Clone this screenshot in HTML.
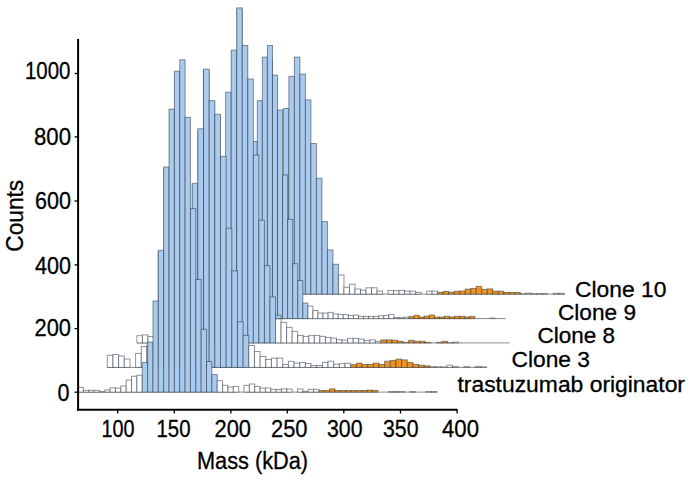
<!DOCTYPE html>
<html><head><meta charset="utf-8"><style>html,body{margin:0;padding:0;background:#fff;overflow:hidden}svg{display:block}</style></head>
<body>
<svg width="700" height="481" viewBox="0 0 700 481">
<rect width="700" height="481" fill="#fff"/>
<defs><clipPath id="c"><rect x="78.1" y="0" width="622" height="409"/></clipPath></defs>
<g clip-path="url(#c)">
<line x1="195.20" y1="294.10" x2="565.00" y2="294.10" stroke="#8c8c8c" stroke-width="1"/>
<rect x="195.20" y="184.80" width="5.510" height="109.30" fill="#ffffff" stroke="#1e2a36" stroke-opacity="0.5" stroke-width="1.0"/>
<rect x="200.71" y="130.30" width="5.510" height="163.80" fill="#ffffff" stroke="#1e2a36" stroke-opacity="0.5" stroke-width="1.0"/>
<rect x="206.22" y="102.20" width="5.510" height="191.90" fill="#ffffff" stroke="#1e2a36" stroke-opacity="0.5" stroke-width="1.0"/>
<rect x="211.73" y="115.80" width="5.510" height="178.30" fill="#ffffff" stroke="#1e2a36" stroke-opacity="0.5" stroke-width="1.0"/>
<rect x="217.24" y="157.90" width="5.510" height="136.20" fill="#ffffff" stroke="#1e2a36" stroke-opacity="0.5" stroke-width="1.0"/>
<rect x="222.75" y="157.90" width="5.510" height="136.20" fill="#abcbee" stroke="#1e2a36" stroke-opacity="0.5" stroke-width="1.0"/>
<rect x="228.26" y="93.70" width="5.510" height="200.40" fill="#abcbee" stroke="#1e2a36" stroke-opacity="0.5" stroke-width="1.0"/>
<rect x="233.77" y="51.60" width="5.510" height="242.50" fill="#abcbee" stroke="#1e2a36" stroke-opacity="0.5" stroke-width="1.0"/>
<rect x="239.28" y="47.00" width="5.510" height="247.10" fill="#abcbee" stroke="#1e2a36" stroke-opacity="0.5" stroke-width="1.0"/>
<rect x="244.79" y="80.50" width="5.510" height="213.60" fill="#abcbee" stroke="#1e2a36" stroke-opacity="0.5" stroke-width="1.0"/>
<rect x="250.30" y="143.00" width="5.510" height="151.10" fill="#abcbee" stroke="#1e2a36" stroke-opacity="0.5" stroke-width="1.0"/>
<rect x="255.81" y="143.00" width="5.510" height="151.10" fill="#abcbee" stroke="#1e2a36" stroke-opacity="0.5" stroke-width="1.0"/>
<rect x="261.32" y="102.20" width="5.510" height="191.90" fill="#abcbee" stroke="#1e2a36" stroke-opacity="0.5" stroke-width="1.0"/>
<rect x="266.83" y="58.60" width="5.510" height="235.50" fill="#abcbee" stroke="#1e2a36" stroke-opacity="0.5" stroke-width="1.0"/>
<rect x="272.34" y="111.50" width="5.510" height="182.60" fill="#abcbee" stroke="#1e2a36" stroke-opacity="0.5" stroke-width="1.0"/>
<rect x="277.85" y="176.50" width="5.510" height="117.60" fill="#abcbee" stroke="#1e2a36" stroke-opacity="0.5" stroke-width="1.0"/>
<rect x="283.36" y="108.50" width="5.510" height="185.60" fill="#abcbee" stroke="#1e2a36" stroke-opacity="0.5" stroke-width="1.0"/>
<rect x="288.87" y="76.30" width="5.510" height="217.80" fill="#abcbee" stroke="#1e2a36" stroke-opacity="0.5" stroke-width="1.0"/>
<rect x="294.38" y="57.10" width="5.510" height="237.00" fill="#abcbee" stroke="#1e2a36" stroke-opacity="0.5" stroke-width="1.0"/>
<rect x="299.89" y="74.10" width="5.510" height="220.00" fill="#abcbee" stroke="#1e2a36" stroke-opacity="0.5" stroke-width="1.0"/>
<rect x="305.40" y="99.90" width="5.510" height="194.20" fill="#abcbee" stroke="#1e2a36" stroke-opacity="0.5" stroke-width="1.0"/>
<rect x="310.91" y="143.50" width="5.510" height="150.60" fill="#abcbee" stroke="#1e2a36" stroke-opacity="0.5" stroke-width="1.0"/>
<rect x="316.42" y="178.30" width="5.510" height="115.80" fill="#abcbee" stroke="#1e2a36" stroke-opacity="0.5" stroke-width="1.0"/>
<rect x="321.93" y="221.60" width="5.510" height="72.50" fill="#abcbee" stroke="#1e2a36" stroke-opacity="0.5" stroke-width="1.0"/>
<rect x="327.44" y="249.90" width="5.510" height="44.20" fill="#abcbee" stroke="#1e2a36" stroke-opacity="0.5" stroke-width="1.0"/>
<rect x="332.95" y="264.30" width="5.510" height="29.80" fill="#abcbee" stroke="#1e2a36" stroke-opacity="0.5" stroke-width="1.0"/>
<rect x="338.46" y="275.00" width="5.510" height="19.10" fill="#ffffff" stroke="#1e2a36" stroke-opacity="0.5" stroke-width="1.0"/>
<rect x="343.97" y="287.30" width="5.510" height="6.80" fill="#ffffff" stroke="#1e2a36" stroke-opacity="0.5" stroke-width="1.0"/>
<rect x="349.48" y="284.20" width="5.510" height="9.90" fill="#ffffff" stroke="#1e2a36" stroke-opacity="0.5" stroke-width="1.0"/>
<rect x="354.99" y="289.00" width="5.510" height="5.10" fill="#ffffff" stroke="#1e2a36" stroke-opacity="0.5" stroke-width="1.0"/>
<rect x="360.50" y="290.20" width="5.510" height="3.90" fill="#ffffff" stroke="#1e2a36" stroke-opacity="0.5" stroke-width="1.0"/>
<rect x="366.01" y="287.80" width="5.510" height="6.30" fill="#ffffff" stroke="#1e2a36" stroke-opacity="0.5" stroke-width="1.0"/>
<rect x="371.52" y="287.80" width="5.510" height="6.30" fill="#ffffff" stroke="#1e2a36" stroke-opacity="0.5" stroke-width="1.0"/>
<rect x="377.03" y="291.00" width="5.510" height="3.10" fill="#ffffff" stroke="#1e2a36" stroke-opacity="0.5" stroke-width="1.0"/>
<rect x="388.05" y="290.50" width="5.510" height="3.60" fill="#ffffff" stroke="#1e2a36" stroke-opacity="0.5" stroke-width="1.0"/>
<rect x="393.56" y="290.70" width="5.510" height="3.40" fill="#ffffff" stroke="#1e2a36" stroke-opacity="0.5" stroke-width="1.0"/>
<rect x="399.07" y="290.40" width="5.510" height="3.70" fill="#ffffff" stroke="#1e2a36" stroke-opacity="0.5" stroke-width="1.0"/>
<rect x="404.58" y="291.10" width="5.510" height="3.00" fill="#ffffff" stroke="#1e2a36" stroke-opacity="0.5" stroke-width="1.0"/>
<rect x="410.09" y="291.10" width="5.510" height="3.00" fill="#ffffff" stroke="#1e2a36" stroke-opacity="0.5" stroke-width="1.0"/>
<rect x="415.60" y="292.40" width="5.510" height="1.70" fill="#ffffff" stroke="#1e2a36" stroke-opacity="0.5" stroke-width="1.0"/>
<rect x="426.62" y="291.10" width="5.510" height="3.00" fill="#ffffff" stroke="#1e2a36" stroke-opacity="0.5" stroke-width="1.0"/>
<rect x="432.13" y="291.10" width="5.510" height="3.00" fill="#ffffff" stroke="#1e2a36" stroke-opacity="0.5" stroke-width="1.0"/>
<rect x="437.64" y="292.40" width="5.510" height="1.70" fill="#f29421" stroke="#1e2a36" stroke-opacity="0.5" stroke-width="1.0"/>
<rect x="443.15" y="291.40" width="5.510" height="2.70" fill="#f29421" stroke="#1e2a36" stroke-opacity="0.5" stroke-width="1.0"/>
<rect x="448.66" y="292.20" width="5.510" height="1.90" fill="#f29421" stroke="#1e2a36" stroke-opacity="0.5" stroke-width="1.0"/>
<rect x="454.17" y="291.30" width="5.510" height="2.80" fill="#f29421" stroke="#1e2a36" stroke-opacity="0.5" stroke-width="1.0"/>
<rect x="459.68" y="291.00" width="5.510" height="3.10" fill="#f29421" stroke="#1e2a36" stroke-opacity="0.5" stroke-width="1.0"/>
<rect x="465.19" y="289.10" width="5.510" height="5.00" fill="#f29421" stroke="#1e2a36" stroke-opacity="0.5" stroke-width="1.0"/>
<rect x="470.70" y="288.40" width="5.510" height="5.70" fill="#f29421" stroke="#1e2a36" stroke-opacity="0.5" stroke-width="1.0"/>
<rect x="476.21" y="286.40" width="5.510" height="7.70" fill="#f29421" stroke="#1e2a36" stroke-opacity="0.5" stroke-width="1.0"/>
<rect x="481.72" y="289.40" width="5.510" height="4.70" fill="#f29421" stroke="#1e2a36" stroke-opacity="0.5" stroke-width="1.0"/>
<rect x="487.23" y="288.90" width="5.510" height="5.20" fill="#f29421" stroke="#1e2a36" stroke-opacity="0.5" stroke-width="1.0"/>
<rect x="492.74" y="291.20" width="5.510" height="2.90" fill="#f29421" stroke="#1e2a36" stroke-opacity="0.5" stroke-width="1.0"/>
<rect x="498.25" y="291.20" width="5.510" height="2.90" fill="#f29421" stroke="#1e2a36" stroke-opacity="0.5" stroke-width="1.0"/>
<rect x="503.76" y="292.50" width="5.510" height="1.60" fill="#f29421" stroke="#1e2a36" stroke-opacity="0.5" stroke-width="1.0"/>
<rect x="509.27" y="292.50" width="5.510" height="1.60" fill="#f29421" stroke="#1e2a36" stroke-opacity="0.5" stroke-width="1.0"/>
<rect x="514.78" y="292.50" width="5.510" height="1.60" fill="#f29421" stroke="#1e2a36" stroke-opacity="0.5" stroke-width="1.0"/>
<rect x="520.29" y="293.60" width="5.510" height="0.50" fill="#ffffff" stroke="#1e2a36" stroke-opacity="0.5" stroke-width="1.0"/>
<rect x="525.80" y="293.10" width="5.510" height="1.00" fill="#ffffff" stroke="#1e2a36" stroke-opacity="0.5" stroke-width="1.0"/>
<rect x="531.31" y="293.60" width="5.510" height="0.50" fill="#ffffff" stroke="#1e2a36" stroke-opacity="0.5" stroke-width="1.0"/>
<rect x="536.82" y="293.60" width="5.510" height="0.50" fill="#ffffff" stroke="#1e2a36" stroke-opacity="0.5" stroke-width="1.0"/>
<rect x="542.33" y="293.60" width="5.510" height="0.50" fill="#ffffff" stroke="#1e2a36" stroke-opacity="0.5" stroke-width="1.0"/>
<rect x="553.35" y="293.30" width="5.510" height="0.80" fill="#ffffff" stroke="#1e2a36" stroke-opacity="0.5" stroke-width="1.0"/>
<rect x="558.86" y="293.30" width="5.510" height="0.80" fill="#ffffff" stroke="#1e2a36" stroke-opacity="0.5" stroke-width="1.0"/>
<line x1="166.20" y1="318.60" x2="505.80" y2="318.60" stroke="#8c8c8c" stroke-width="1"/>
<rect x="166.20" y="168.50" width="5.060" height="150.10" fill="#ffffff" stroke="#1e2a36" stroke-opacity="0.5" stroke-width="1.0"/>
<rect x="171.26" y="110.70" width="5.060" height="207.90" fill="#ffffff" stroke="#1e2a36" stroke-opacity="0.5" stroke-width="1.0"/>
<rect x="176.32" y="72.70" width="5.060" height="245.90" fill="#ffffff" stroke="#1e2a36" stroke-opacity="0.5" stroke-width="1.0"/>
<rect x="181.38" y="118.80" width="5.060" height="199.80" fill="#ffffff" stroke="#1e2a36" stroke-opacity="0.5" stroke-width="1.0"/>
<rect x="186.44" y="210.10" width="5.060" height="108.50" fill="#ffffff" stroke="#1e2a36" stroke-opacity="0.5" stroke-width="1.0"/>
<rect x="191.50" y="210.10" width="5.060" height="108.50" fill="#abcbee" stroke="#1e2a36" stroke-opacity="0.5" stroke-width="1.0"/>
<rect x="196.56" y="184.80" width="5.060" height="133.80" fill="#abcbee" stroke="#1e2a36" stroke-opacity="0.5" stroke-width="1.0"/>
<rect x="201.62" y="130.30" width="5.060" height="188.30" fill="#abcbee" stroke="#1e2a36" stroke-opacity="0.5" stroke-width="1.0"/>
<rect x="206.68" y="102.20" width="5.060" height="216.40" fill="#abcbee" stroke="#1e2a36" stroke-opacity="0.5" stroke-width="1.0"/>
<rect x="211.74" y="115.80" width="5.060" height="202.80" fill="#abcbee" stroke="#1e2a36" stroke-opacity="0.5" stroke-width="1.0"/>
<rect x="216.80" y="157.90" width="5.060" height="160.70" fill="#abcbee" stroke="#1e2a36" stroke-opacity="0.5" stroke-width="1.0"/>
<rect x="221.86" y="157.90" width="5.060" height="160.70" fill="#abcbee" stroke="#1e2a36" stroke-opacity="0.5" stroke-width="1.0"/>
<rect x="226.92" y="93.70" width="5.060" height="224.90" fill="#abcbee" stroke="#1e2a36" stroke-opacity="0.5" stroke-width="1.0"/>
<rect x="231.98" y="51.60" width="5.060" height="267.00" fill="#abcbee" stroke="#1e2a36" stroke-opacity="0.5" stroke-width="1.0"/>
<rect x="237.04" y="9.40" width="5.060" height="309.20" fill="#abcbee" stroke="#1e2a36" stroke-opacity="0.5" stroke-width="1.0"/>
<rect x="242.10" y="47.00" width="5.060" height="271.60" fill="#abcbee" stroke="#1e2a36" stroke-opacity="0.5" stroke-width="1.0"/>
<rect x="247.16" y="80.50" width="5.060" height="238.10" fill="#abcbee" stroke="#1e2a36" stroke-opacity="0.5" stroke-width="1.0"/>
<rect x="252.22" y="141.50" width="5.060" height="177.10" fill="#abcbee" stroke="#1e2a36" stroke-opacity="0.5" stroke-width="1.0"/>
<rect x="257.28" y="100.70" width="5.060" height="217.90" fill="#abcbee" stroke="#1e2a36" stroke-opacity="0.5" stroke-width="1.0"/>
<rect x="262.34" y="57.10" width="5.060" height="261.50" fill="#abcbee" stroke="#1e2a36" stroke-opacity="0.5" stroke-width="1.0"/>
<rect x="267.40" y="45.50" width="5.060" height="273.10" fill="#abcbee" stroke="#1e2a36" stroke-opacity="0.5" stroke-width="1.0"/>
<rect x="272.46" y="75.20" width="5.060" height="243.40" fill="#abcbee" stroke="#1e2a36" stroke-opacity="0.5" stroke-width="1.0"/>
<rect x="277.52" y="110.00" width="5.060" height="208.60" fill="#abcbee" stroke="#1e2a36" stroke-opacity="0.5" stroke-width="1.0"/>
<rect x="282.58" y="175.00" width="5.060" height="143.60" fill="#abcbee" stroke="#1e2a36" stroke-opacity="0.5" stroke-width="1.0"/>
<rect x="287.64" y="219.40" width="5.060" height="99.20" fill="#abcbee" stroke="#1e2a36" stroke-opacity="0.5" stroke-width="1.0"/>
<rect x="292.70" y="263.70" width="5.060" height="54.90" fill="#abcbee" stroke="#1e2a36" stroke-opacity="0.5" stroke-width="1.0"/>
<rect x="297.76" y="280.50" width="5.060" height="38.10" fill="#abcbee" stroke="#1e2a36" stroke-opacity="0.5" stroke-width="1.0"/>
<rect x="302.82" y="303.10" width="5.060" height="15.50" fill="#abcbee" stroke="#1e2a36" stroke-opacity="0.5" stroke-width="1.0"/>
<rect x="307.88" y="306.10" width="5.060" height="12.50" fill="#ffffff" stroke="#1e2a36" stroke-opacity="0.5" stroke-width="1.0"/>
<rect x="312.94" y="310.50" width="5.060" height="8.10" fill="#ffffff" stroke="#1e2a36" stroke-opacity="0.5" stroke-width="1.0"/>
<rect x="318.00" y="313.00" width="5.060" height="5.60" fill="#ffffff" stroke="#1e2a36" stroke-opacity="0.5" stroke-width="1.0"/>
<rect x="323.06" y="313.10" width="5.060" height="5.50" fill="#ffffff" stroke="#1e2a36" stroke-opacity="0.5" stroke-width="1.0"/>
<rect x="328.12" y="312.40" width="5.060" height="6.20" fill="#ffffff" stroke="#1e2a36" stroke-opacity="0.5" stroke-width="1.0"/>
<rect x="333.18" y="313.90" width="5.060" height="4.70" fill="#ffffff" stroke="#1e2a36" stroke-opacity="0.5" stroke-width="1.0"/>
<rect x="338.24" y="314.60" width="5.060" height="4.00" fill="#ffffff" stroke="#1e2a36" stroke-opacity="0.5" stroke-width="1.0"/>
<rect x="343.30" y="314.60" width="5.060" height="4.00" fill="#ffffff" stroke="#1e2a36" stroke-opacity="0.5" stroke-width="1.0"/>
<rect x="348.36" y="315.50" width="5.060" height="3.10" fill="#ffffff" stroke="#1e2a36" stroke-opacity="0.5" stroke-width="1.0"/>
<rect x="353.42" y="315.10" width="5.060" height="3.50" fill="#ffffff" stroke="#1e2a36" stroke-opacity="0.5" stroke-width="1.0"/>
<rect x="358.48" y="316.40" width="5.060" height="2.20" fill="#ffffff" stroke="#1e2a36" stroke-opacity="0.5" stroke-width="1.0"/>
<rect x="363.54" y="316.40" width="5.060" height="2.20" fill="#ffffff" stroke="#1e2a36" stroke-opacity="0.5" stroke-width="1.0"/>
<rect x="368.60" y="316.40" width="5.060" height="2.20" fill="#ffffff" stroke="#1e2a36" stroke-opacity="0.5" stroke-width="1.0"/>
<rect x="373.66" y="316.40" width="5.060" height="2.20" fill="#ffffff" stroke="#1e2a36" stroke-opacity="0.5" stroke-width="1.0"/>
<rect x="378.72" y="315.70" width="5.060" height="2.90" fill="#ffffff" stroke="#1e2a36" stroke-opacity="0.5" stroke-width="1.0"/>
<rect x="383.78" y="315.40" width="5.060" height="3.20" fill="#ffffff" stroke="#1e2a36" stroke-opacity="0.5" stroke-width="1.0"/>
<rect x="388.84" y="314.40" width="5.060" height="4.20" fill="#ffffff" stroke="#1e2a36" stroke-opacity="0.5" stroke-width="1.0"/>
<rect x="393.90" y="317.60" width="5.060" height="1.00" fill="#ffffff" stroke="#1e2a36" stroke-opacity="0.5" stroke-width="1.0"/>
<rect x="398.96" y="317.60" width="5.060" height="1.00" fill="#ffffff" stroke="#1e2a36" stroke-opacity="0.5" stroke-width="1.0"/>
<rect x="404.02" y="317.10" width="5.060" height="1.50" fill="#ffffff" stroke="#1e2a36" stroke-opacity="0.5" stroke-width="1.0"/>
<rect x="409.08" y="316.60" width="5.060" height="2.00" fill="#f29421" stroke="#1e2a36" stroke-opacity="0.5" stroke-width="1.0"/>
<rect x="414.14" y="315.30" width="5.060" height="3.30" fill="#f29421" stroke="#1e2a36" stroke-opacity="0.5" stroke-width="1.0"/>
<rect x="419.20" y="317.00" width="5.060" height="1.60" fill="#f29421" stroke="#1e2a36" stroke-opacity="0.5" stroke-width="1.0"/>
<rect x="424.26" y="316.10" width="5.060" height="2.50" fill="#f29421" stroke="#1e2a36" stroke-opacity="0.5" stroke-width="1.0"/>
<rect x="429.32" y="315.00" width="5.060" height="3.60" fill="#f29421" stroke="#1e2a36" stroke-opacity="0.5" stroke-width="1.0"/>
<rect x="434.38" y="317.00" width="5.060" height="1.60" fill="#f29421" stroke="#1e2a36" stroke-opacity="0.5" stroke-width="1.0"/>
<rect x="439.44" y="317.00" width="5.060" height="1.60" fill="#f29421" stroke="#1e2a36" stroke-opacity="0.5" stroke-width="1.0"/>
<rect x="444.50" y="316.30" width="5.060" height="2.30" fill="#f29421" stroke="#1e2a36" stroke-opacity="0.5" stroke-width="1.0"/>
<rect x="449.56" y="317.00" width="5.060" height="1.60" fill="#f29421" stroke="#1e2a36" stroke-opacity="0.5" stroke-width="1.0"/>
<rect x="454.62" y="316.30" width="5.060" height="2.30" fill="#f29421" stroke="#1e2a36" stroke-opacity="0.5" stroke-width="1.0"/>
<rect x="459.68" y="316.30" width="5.060" height="2.30" fill="#f29421" stroke="#1e2a36" stroke-opacity="0.5" stroke-width="1.0"/>
<rect x="464.74" y="317.00" width="5.060" height="1.60" fill="#f29421" stroke="#1e2a36" stroke-opacity="0.5" stroke-width="1.0"/>
<rect x="469.80" y="316.30" width="5.060" height="2.30" fill="#f29421" stroke="#1e2a36" stroke-opacity="0.5" stroke-width="1.0"/>
<rect x="490.04" y="318.10" width="5.060" height="0.50" fill="#ffffff" stroke="#1e2a36" stroke-opacity="0.5" stroke-width="1.0"/>
<line x1="136.90" y1="342.90" x2="509.60" y2="342.90" stroke="#8c8c8c" stroke-width="1"/>
<rect x="136.90" y="335.70" width="5.545" height="7.20" fill="#ffffff" stroke="#1e2a36" stroke-opacity="0.5" stroke-width="1.0"/>
<rect x="142.44" y="334.90" width="5.545" height="8.00" fill="#ffffff" stroke="#1e2a36" stroke-opacity="0.5" stroke-width="1.0"/>
<rect x="147.99" y="336.60" width="5.545" height="6.30" fill="#ffffff" stroke="#1e2a36" stroke-opacity="0.5" stroke-width="1.0"/>
<rect x="153.53" y="302.50" width="5.545" height="40.40" fill="#abcbee" stroke="#1e2a36" stroke-opacity="0.5" stroke-width="1.0"/>
<rect x="159.08" y="251.80" width="5.545" height="91.10" fill="#abcbee" stroke="#1e2a36" stroke-opacity="0.5" stroke-width="1.0"/>
<rect x="164.62" y="168.50" width="5.545" height="174.40" fill="#abcbee" stroke="#1e2a36" stroke-opacity="0.5" stroke-width="1.0"/>
<rect x="170.17" y="110.70" width="5.545" height="232.20" fill="#abcbee" stroke="#1e2a36" stroke-opacity="0.5" stroke-width="1.0"/>
<rect x="175.72" y="72.70" width="5.545" height="270.20" fill="#abcbee" stroke="#1e2a36" stroke-opacity="0.5" stroke-width="1.0"/>
<rect x="181.26" y="118.80" width="5.545" height="224.10" fill="#abcbee" stroke="#1e2a36" stroke-opacity="0.5" stroke-width="1.0"/>
<rect x="186.81" y="210.10" width="5.545" height="132.80" fill="#abcbee" stroke="#1e2a36" stroke-opacity="0.5" stroke-width="1.0"/>
<rect x="192.35" y="184.80" width="5.545" height="158.10" fill="#abcbee" stroke="#1e2a36" stroke-opacity="0.5" stroke-width="1.0"/>
<rect x="197.90" y="130.30" width="5.545" height="212.60" fill="#abcbee" stroke="#1e2a36" stroke-opacity="0.5" stroke-width="1.0"/>
<rect x="203.44" y="70.60" width="5.545" height="272.30" fill="#abcbee" stroke="#1e2a36" stroke-opacity="0.5" stroke-width="1.0"/>
<rect x="208.99" y="102.20" width="5.545" height="240.70" fill="#abcbee" stroke="#1e2a36" stroke-opacity="0.5" stroke-width="1.0"/>
<rect x="214.53" y="115.80" width="5.545" height="227.10" fill="#abcbee" stroke="#1e2a36" stroke-opacity="0.5" stroke-width="1.0"/>
<rect x="220.07" y="157.90" width="5.545" height="185.00" fill="#abcbee" stroke="#1e2a36" stroke-opacity="0.5" stroke-width="1.0"/>
<rect x="225.62" y="92.20" width="5.545" height="250.70" fill="#abcbee" stroke="#1e2a36" stroke-opacity="0.5" stroke-width="1.0"/>
<rect x="231.17" y="50.10" width="5.545" height="292.80" fill="#abcbee" stroke="#1e2a36" stroke-opacity="0.5" stroke-width="1.0"/>
<rect x="236.71" y="7.90" width="5.545" height="335.00" fill="#abcbee" stroke="#1e2a36" stroke-opacity="0.5" stroke-width="1.0"/>
<rect x="242.25" y="45.50" width="5.545" height="297.40" fill="#abcbee" stroke="#1e2a36" stroke-opacity="0.5" stroke-width="1.0"/>
<rect x="247.80" y="79.00" width="5.545" height="263.90" fill="#abcbee" stroke="#1e2a36" stroke-opacity="0.5" stroke-width="1.0"/>
<rect x="253.34" y="155.10" width="5.545" height="187.80" fill="#abcbee" stroke="#1e2a36" stroke-opacity="0.5" stroke-width="1.0"/>
<rect x="258.89" y="220.20" width="5.545" height="122.70" fill="#abcbee" stroke="#1e2a36" stroke-opacity="0.5" stroke-width="1.0"/>
<rect x="264.44" y="265.70" width="5.545" height="77.20" fill="#abcbee" stroke="#1e2a36" stroke-opacity="0.5" stroke-width="1.0"/>
<rect x="269.98" y="296.90" width="5.545" height="46.00" fill="#abcbee" stroke="#1e2a36" stroke-opacity="0.5" stroke-width="1.0"/>
<rect x="275.52" y="318.70" width="5.545" height="24.20" fill="#ffffff" stroke="#1e2a36" stroke-opacity="0.5" stroke-width="1.0"/>
<rect x="281.07" y="322.40" width="5.545" height="20.50" fill="#ffffff" stroke="#1e2a36" stroke-opacity="0.5" stroke-width="1.0"/>
<rect x="286.62" y="327.40" width="5.545" height="15.50" fill="#ffffff" stroke="#1e2a36" stroke-opacity="0.5" stroke-width="1.0"/>
<rect x="292.16" y="331.40" width="5.545" height="11.50" fill="#ffffff" stroke="#1e2a36" stroke-opacity="0.5" stroke-width="1.0"/>
<rect x="297.71" y="335.40" width="5.545" height="7.50" fill="#ffffff" stroke="#1e2a36" stroke-opacity="0.5" stroke-width="1.0"/>
<rect x="303.25" y="336.40" width="5.545" height="6.50" fill="#ffffff" stroke="#1e2a36" stroke-opacity="0.5" stroke-width="1.0"/>
<rect x="308.80" y="335.60" width="5.545" height="7.30" fill="#ffffff" stroke="#1e2a36" stroke-opacity="0.5" stroke-width="1.0"/>
<rect x="314.34" y="335.40" width="5.545" height="7.50" fill="#ffffff" stroke="#1e2a36" stroke-opacity="0.5" stroke-width="1.0"/>
<rect x="319.88" y="336.40" width="5.545" height="6.50" fill="#ffffff" stroke="#1e2a36" stroke-opacity="0.5" stroke-width="1.0"/>
<rect x="325.43" y="337.40" width="5.545" height="5.50" fill="#ffffff" stroke="#1e2a36" stroke-opacity="0.5" stroke-width="1.0"/>
<rect x="330.98" y="338.10" width="5.545" height="4.80" fill="#ffffff" stroke="#1e2a36" stroke-opacity="0.5" stroke-width="1.0"/>
<rect x="336.52" y="339.70" width="5.545" height="3.20" fill="#ffffff" stroke="#1e2a36" stroke-opacity="0.5" stroke-width="1.0"/>
<rect x="342.06" y="340.10" width="5.545" height="2.80" fill="#ffffff" stroke="#1e2a36" stroke-opacity="0.5" stroke-width="1.0"/>
<rect x="347.61" y="338.40" width="5.545" height="4.50" fill="#ffffff" stroke="#1e2a36" stroke-opacity="0.5" stroke-width="1.0"/>
<rect x="353.15" y="338.40" width="5.545" height="4.50" fill="#ffffff" stroke="#1e2a36" stroke-opacity="0.5" stroke-width="1.0"/>
<rect x="358.70" y="339.10" width="5.545" height="3.80" fill="#ffffff" stroke="#1e2a36" stroke-opacity="0.5" stroke-width="1.0"/>
<rect x="364.25" y="340.40" width="5.545" height="2.50" fill="#ffffff" stroke="#1e2a36" stroke-opacity="0.5" stroke-width="1.0"/>
<rect x="369.79" y="339.90" width="5.545" height="3.00" fill="#ffffff" stroke="#1e2a36" stroke-opacity="0.5" stroke-width="1.0"/>
<rect x="375.34" y="341.40" width="5.545" height="1.50" fill="#ffffff" stroke="#1e2a36" stroke-opacity="0.5" stroke-width="1.0"/>
<rect x="380.88" y="339.90" width="5.545" height="3.00" fill="#f29421" stroke="#1e2a36" stroke-opacity="0.5" stroke-width="1.0"/>
<rect x="386.43" y="339.90" width="5.545" height="3.00" fill="#f29421" stroke="#1e2a36" stroke-opacity="0.5" stroke-width="1.0"/>
<rect x="391.97" y="340.20" width="5.545" height="2.70" fill="#f29421" stroke="#1e2a36" stroke-opacity="0.5" stroke-width="1.0"/>
<rect x="397.51" y="341.30" width="5.545" height="1.60" fill="#f29421" stroke="#1e2a36" stroke-opacity="0.5" stroke-width="1.0"/>
<rect x="403.06" y="342.40" width="5.545" height="0.50" fill="#f29421" stroke="#1e2a36" stroke-opacity="0.5" stroke-width="1.0"/>
<rect x="408.61" y="340.30" width="5.545" height="2.60" fill="#f29421" stroke="#1e2a36" stroke-opacity="0.5" stroke-width="1.0"/>
<rect x="414.15" y="341.30" width="5.545" height="1.60" fill="#f29421" stroke="#1e2a36" stroke-opacity="0.5" stroke-width="1.0"/>
<rect x="419.70" y="341.30" width="5.545" height="1.60" fill="#f29421" stroke="#1e2a36" stroke-opacity="0.5" stroke-width="1.0"/>
<rect x="425.24" y="342.40" width="5.545" height="0.50" fill="#f29421" stroke="#1e2a36" stroke-opacity="0.5" stroke-width="1.0"/>
<rect x="436.33" y="342.40" width="5.545" height="0.50" fill="#f29421" stroke="#1e2a36" stroke-opacity="0.5" stroke-width="1.0"/>
<rect x="441.88" y="341.30" width="5.545" height="1.60" fill="#f29421" stroke="#1e2a36" stroke-opacity="0.5" stroke-width="1.0"/>
<rect x="447.42" y="342.60" width="5.545" height="0.30" fill="#ffffff" stroke="#1e2a36" stroke-opacity="0.5" stroke-width="1.0"/>
<rect x="452.97" y="342.10" width="5.545" height="0.80" fill="#ffffff" stroke="#1e2a36" stroke-opacity="0.5" stroke-width="1.0"/>
<line x1="107.30" y1="367.40" x2="486.60" y2="367.40" stroke="#8c8c8c" stroke-width="1"/>
<rect x="107.30" y="355.30" width="5.660" height="12.10" fill="#ffffff" stroke="#1e2a36" stroke-opacity="0.5" stroke-width="1.0"/>
<rect x="112.96" y="354.50" width="5.660" height="12.90" fill="#ffffff" stroke="#1e2a36" stroke-opacity="0.5" stroke-width="1.0"/>
<rect x="118.62" y="356.00" width="5.660" height="11.40" fill="#ffffff" stroke="#1e2a36" stroke-opacity="0.5" stroke-width="1.0"/>
<rect x="124.28" y="359.00" width="5.660" height="8.40" fill="#ffffff" stroke="#1e2a36" stroke-opacity="0.5" stroke-width="1.0"/>
<rect x="135.60" y="353.40" width="5.660" height="14.00" fill="#ffffff" stroke="#1e2a36" stroke-opacity="0.5" stroke-width="1.0"/>
<rect x="141.26" y="346.60" width="5.660" height="20.80" fill="#ffffff" stroke="#1e2a36" stroke-opacity="0.5" stroke-width="1.0"/>
<rect x="146.92" y="345.40" width="5.660" height="22.00" fill="#abcbee" stroke="#1e2a36" stroke-opacity="0.5" stroke-width="1.0"/>
<rect x="152.58" y="343.60" width="5.660" height="23.80" fill="#abcbee" stroke="#1e2a36" stroke-opacity="0.5" stroke-width="1.0"/>
<rect x="158.24" y="251.80" width="5.660" height="115.60" fill="#abcbee" stroke="#1e2a36" stroke-opacity="0.5" stroke-width="1.0"/>
<rect x="163.90" y="168.50" width="5.660" height="198.90" fill="#abcbee" stroke="#1e2a36" stroke-opacity="0.5" stroke-width="1.0"/>
<rect x="169.56" y="110.70" width="5.660" height="256.70" fill="#abcbee" stroke="#1e2a36" stroke-opacity="0.5" stroke-width="1.0"/>
<rect x="175.22" y="72.70" width="5.660" height="294.70" fill="#abcbee" stroke="#1e2a36" stroke-opacity="0.5" stroke-width="1.0"/>
<rect x="180.88" y="118.80" width="5.660" height="248.60" fill="#abcbee" stroke="#1e2a36" stroke-opacity="0.5" stroke-width="1.0"/>
<rect x="186.54" y="217.40" width="5.660" height="150.00" fill="#abcbee" stroke="#1e2a36" stroke-opacity="0.5" stroke-width="1.0"/>
<rect x="192.20" y="183.30" width="5.660" height="184.10" fill="#abcbee" stroke="#1e2a36" stroke-opacity="0.5" stroke-width="1.0"/>
<rect x="197.86" y="128.80" width="5.660" height="238.60" fill="#abcbee" stroke="#1e2a36" stroke-opacity="0.5" stroke-width="1.0"/>
<rect x="203.52" y="69.10" width="5.660" height="298.30" fill="#abcbee" stroke="#1e2a36" stroke-opacity="0.5" stroke-width="1.0"/>
<rect x="209.18" y="100.70" width="5.660" height="266.70" fill="#abcbee" stroke="#1e2a36" stroke-opacity="0.5" stroke-width="1.0"/>
<rect x="214.84" y="114.30" width="5.660" height="253.10" fill="#abcbee" stroke="#1e2a36" stroke-opacity="0.5" stroke-width="1.0"/>
<rect x="220.50" y="156.40" width="5.660" height="211.00" fill="#abcbee" stroke="#1e2a36" stroke-opacity="0.5" stroke-width="1.0"/>
<rect x="226.16" y="228.30" width="5.660" height="139.10" fill="#abcbee" stroke="#1e2a36" stroke-opacity="0.5" stroke-width="1.0"/>
<rect x="231.82" y="270.90" width="5.660" height="96.50" fill="#abcbee" stroke="#1e2a36" stroke-opacity="0.5" stroke-width="1.0"/>
<rect x="237.48" y="321.80" width="5.660" height="45.60" fill="#abcbee" stroke="#1e2a36" stroke-opacity="0.5" stroke-width="1.0"/>
<rect x="243.14" y="335.40" width="5.660" height="32.00" fill="#abcbee" stroke="#1e2a36" stroke-opacity="0.5" stroke-width="1.0"/>
<rect x="248.80" y="345.50" width="5.660" height="21.90" fill="#ffffff" stroke="#1e2a36" stroke-opacity="0.5" stroke-width="1.0"/>
<rect x="254.46" y="351.50" width="5.660" height="15.90" fill="#ffffff" stroke="#1e2a36" stroke-opacity="0.5" stroke-width="1.0"/>
<rect x="260.12" y="356.50" width="5.660" height="10.90" fill="#ffffff" stroke="#1e2a36" stroke-opacity="0.5" stroke-width="1.0"/>
<rect x="265.78" y="359.50" width="5.660" height="7.90" fill="#ffffff" stroke="#1e2a36" stroke-opacity="0.5" stroke-width="1.0"/>
<rect x="271.44" y="358.20" width="5.660" height="9.20" fill="#ffffff" stroke="#1e2a36" stroke-opacity="0.5" stroke-width="1.0"/>
<rect x="277.10" y="358.00" width="5.660" height="9.40" fill="#ffffff" stroke="#1e2a36" stroke-opacity="0.5" stroke-width="1.0"/>
<rect x="282.76" y="364.50" width="5.660" height="2.90" fill="#ffffff" stroke="#1e2a36" stroke-opacity="0.5" stroke-width="1.0"/>
<rect x="288.42" y="361.30" width="5.660" height="6.10" fill="#ffffff" stroke="#1e2a36" stroke-opacity="0.5" stroke-width="1.0"/>
<rect x="294.08" y="363.00" width="5.660" height="4.40" fill="#ffffff" stroke="#1e2a36" stroke-opacity="0.5" stroke-width="1.0"/>
<rect x="299.74" y="362.50" width="5.660" height="4.90" fill="#ffffff" stroke="#1e2a36" stroke-opacity="0.5" stroke-width="1.0"/>
<rect x="305.40" y="363.50" width="5.660" height="3.90" fill="#ffffff" stroke="#1e2a36" stroke-opacity="0.5" stroke-width="1.0"/>
<rect x="311.06" y="365.60" width="5.660" height="1.80" fill="#ffffff" stroke="#1e2a36" stroke-opacity="0.5" stroke-width="1.0"/>
<rect x="316.72" y="365.50" width="5.660" height="1.90" fill="#ffffff" stroke="#1e2a36" stroke-opacity="0.5" stroke-width="1.0"/>
<rect x="322.38" y="362.40" width="5.660" height="5.00" fill="#ffffff" stroke="#1e2a36" stroke-opacity="0.5" stroke-width="1.0"/>
<rect x="328.04" y="361.20" width="5.660" height="6.20" fill="#ffffff" stroke="#1e2a36" stroke-opacity="0.5" stroke-width="1.0"/>
<rect x="333.70" y="364.20" width="5.660" height="3.20" fill="#ffffff" stroke="#1e2a36" stroke-opacity="0.5" stroke-width="1.0"/>
<rect x="339.36" y="363.70" width="5.660" height="3.70" fill="#ffffff" stroke="#1e2a36" stroke-opacity="0.5" stroke-width="1.0"/>
<rect x="345.02" y="363.20" width="5.660" height="4.20" fill="#ffffff" stroke="#1e2a36" stroke-opacity="0.5" stroke-width="1.0"/>
<rect x="350.68" y="364.70" width="5.660" height="2.70" fill="#f29421" stroke="#1e2a36" stroke-opacity="0.5" stroke-width="1.0"/>
<rect x="356.34" y="363.20" width="5.660" height="4.20" fill="#f29421" stroke="#1e2a36" stroke-opacity="0.5" stroke-width="1.0"/>
<rect x="362.00" y="364.50" width="5.660" height="2.90" fill="#f29421" stroke="#1e2a36" stroke-opacity="0.5" stroke-width="1.0"/>
<rect x="367.66" y="364.50" width="5.660" height="2.90" fill="#f29421" stroke="#1e2a36" stroke-opacity="0.5" stroke-width="1.0"/>
<rect x="373.32" y="363.10" width="5.660" height="4.30" fill="#f29421" stroke="#1e2a36" stroke-opacity="0.5" stroke-width="1.0"/>
<rect x="378.98" y="364.40" width="5.660" height="3.00" fill="#f29421" stroke="#1e2a36" stroke-opacity="0.5" stroke-width="1.0"/>
<rect x="384.64" y="361.20" width="5.660" height="6.20" fill="#f29421" stroke="#1e2a36" stroke-opacity="0.5" stroke-width="1.0"/>
<rect x="390.30" y="360.40" width="5.660" height="7.00" fill="#f29421" stroke="#1e2a36" stroke-opacity="0.5" stroke-width="1.0"/>
<rect x="395.96" y="359.10" width="5.660" height="8.30" fill="#f29421" stroke="#1e2a36" stroke-opacity="0.5" stroke-width="1.0"/>
<rect x="401.62" y="359.90" width="5.660" height="7.50" fill="#f29421" stroke="#1e2a36" stroke-opacity="0.5" stroke-width="1.0"/>
<rect x="407.28" y="362.40" width="5.660" height="5.00" fill="#f29421" stroke="#1e2a36" stroke-opacity="0.5" stroke-width="1.0"/>
<rect x="412.94" y="364.40" width="5.660" height="3.00" fill="#f29421" stroke="#1e2a36" stroke-opacity="0.5" stroke-width="1.0"/>
<rect x="418.60" y="365.20" width="5.660" height="2.20" fill="#f29421" stroke="#1e2a36" stroke-opacity="0.5" stroke-width="1.0"/>
<rect x="424.26" y="365.80" width="5.660" height="1.60" fill="#f29421" stroke="#1e2a36" stroke-opacity="0.5" stroke-width="1.0"/>
<rect x="429.92" y="366.60" width="5.660" height="0.80" fill="#ffffff" stroke="#1e2a36" stroke-opacity="0.5" stroke-width="1.0"/>
<rect x="435.58" y="366.90" width="5.660" height="0.50" fill="#ffffff" stroke="#1e2a36" stroke-opacity="0.5" stroke-width="1.0"/>
<rect x="441.24" y="366.90" width="5.660" height="0.50" fill="#ffffff" stroke="#1e2a36" stroke-opacity="0.5" stroke-width="1.0"/>
<rect x="446.90" y="365.20" width="5.660" height="2.20" fill="#ffffff" stroke="#1e2a36" stroke-opacity="0.5" stroke-width="1.0"/>
<rect x="452.56" y="366.60" width="5.660" height="0.80" fill="#ffffff" stroke="#1e2a36" stroke-opacity="0.5" stroke-width="1.0"/>
<rect x="463.88" y="366.60" width="5.660" height="0.80" fill="#ffffff" stroke="#1e2a36" stroke-opacity="0.5" stroke-width="1.0"/>
<rect x="475.20" y="366.40" width="5.660" height="1.00" fill="#ffffff" stroke="#1e2a36" stroke-opacity="0.5" stroke-width="1.0"/>
<rect x="480.86" y="366.90" width="5.660" height="0.50" fill="#ffffff" stroke="#1e2a36" stroke-opacity="0.5" stroke-width="1.0"/>
<line x1="78.10" y1="392.10" x2="437.20" y2="392.10" stroke="#8c8c8c" stroke-width="1"/>
<rect x="78.00" y="387.40" width="5.355" height="4.70" fill="#ffffff" stroke="#1e2a36" stroke-opacity="0.5" stroke-width="1.0"/>
<rect x="83.36" y="390.30" width="5.355" height="1.80" fill="#ffffff" stroke="#1e2a36" stroke-opacity="0.5" stroke-width="1.0"/>
<rect x="88.71" y="390.30" width="5.355" height="1.80" fill="#ffffff" stroke="#1e2a36" stroke-opacity="0.5" stroke-width="1.0"/>
<rect x="94.06" y="390.30" width="5.355" height="1.80" fill="#ffffff" stroke="#1e2a36" stroke-opacity="0.5" stroke-width="1.0"/>
<rect x="99.42" y="391.60" width="5.355" height="0.50" fill="#ffffff" stroke="#1e2a36" stroke-opacity="0.5" stroke-width="1.0"/>
<rect x="104.78" y="389.90" width="5.355" height="2.20" fill="#ffffff" stroke="#1e2a36" stroke-opacity="0.5" stroke-width="1.0"/>
<rect x="110.13" y="387.80" width="5.355" height="4.30" fill="#ffffff" stroke="#1e2a36" stroke-opacity="0.5" stroke-width="1.0"/>
<rect x="115.48" y="388.20" width="5.355" height="3.90" fill="#ffffff" stroke="#1e2a36" stroke-opacity="0.5" stroke-width="1.0"/>
<rect x="120.84" y="386.00" width="5.355" height="6.10" fill="#ffffff" stroke="#1e2a36" stroke-opacity="0.5" stroke-width="1.0"/>
<rect x="126.20" y="380.10" width="5.355" height="12.00" fill="#ffffff" stroke="#1e2a36" stroke-opacity="0.5" stroke-width="1.0"/>
<rect x="131.55" y="376.20" width="5.355" height="15.90" fill="#ffffff" stroke="#1e2a36" stroke-opacity="0.5" stroke-width="1.0"/>
<rect x="136.91" y="375.30" width="5.355" height="16.80" fill="#ffffff" stroke="#1e2a36" stroke-opacity="0.5" stroke-width="1.0"/>
<rect x="142.26" y="362.50" width="5.355" height="29.60" fill="#abcbee" stroke="#1e2a36" stroke-opacity="0.5" stroke-width="1.0"/>
<rect x="147.62" y="342.10" width="5.355" height="50.00" fill="#abcbee" stroke="#1e2a36" stroke-opacity="0.5" stroke-width="1.0"/>
<rect x="152.97" y="301.00" width="5.355" height="91.10" fill="#abcbee" stroke="#1e2a36" stroke-opacity="0.5" stroke-width="1.0"/>
<rect x="158.32" y="250.30" width="5.355" height="141.80" fill="#abcbee" stroke="#1e2a36" stroke-opacity="0.5" stroke-width="1.0"/>
<rect x="163.68" y="167.00" width="5.355" height="225.10" fill="#abcbee" stroke="#1e2a36" stroke-opacity="0.5" stroke-width="1.0"/>
<rect x="169.04" y="109.20" width="5.355" height="282.90" fill="#abcbee" stroke="#1e2a36" stroke-opacity="0.5" stroke-width="1.0"/>
<rect x="174.39" y="71.20" width="5.355" height="320.90" fill="#abcbee" stroke="#1e2a36" stroke-opacity="0.5" stroke-width="1.0"/>
<rect x="179.75" y="59.80" width="5.355" height="332.30" fill="#abcbee" stroke="#1e2a36" stroke-opacity="0.5" stroke-width="1.0"/>
<rect x="185.10" y="117.30" width="5.355" height="274.80" fill="#abcbee" stroke="#1e2a36" stroke-opacity="0.5" stroke-width="1.0"/>
<rect x="190.46" y="208.60" width="5.355" height="183.50" fill="#abcbee" stroke="#1e2a36" stroke-opacity="0.5" stroke-width="1.0"/>
<rect x="195.81" y="279.50" width="5.355" height="112.60" fill="#abcbee" stroke="#1e2a36" stroke-opacity="0.5" stroke-width="1.0"/>
<rect x="201.17" y="329.30" width="5.355" height="62.80" fill="#abcbee" stroke="#1e2a36" stroke-opacity="0.5" stroke-width="1.0"/>
<rect x="206.52" y="361.50" width="5.355" height="30.60" fill="#abcbee" stroke="#1e2a36" stroke-opacity="0.5" stroke-width="1.0"/>
<rect x="211.88" y="374.60" width="5.355" height="17.50" fill="#abcbee" stroke="#1e2a36" stroke-opacity="0.5" stroke-width="1.0"/>
<rect x="217.23" y="380.70" width="5.355" height="11.40" fill="#ffffff" stroke="#1e2a36" stroke-opacity="0.5" stroke-width="1.0"/>
<rect x="222.59" y="385.30" width="5.355" height="6.80" fill="#ffffff" stroke="#1e2a36" stroke-opacity="0.5" stroke-width="1.0"/>
<rect x="227.94" y="387.10" width="5.355" height="5.00" fill="#ffffff" stroke="#1e2a36" stroke-opacity="0.5" stroke-width="1.0"/>
<rect x="233.30" y="386.40" width="5.355" height="5.70" fill="#ffffff" stroke="#1e2a36" stroke-opacity="0.5" stroke-width="1.0"/>
<rect x="244.01" y="385.40" width="5.355" height="6.70" fill="#ffffff" stroke="#1e2a36" stroke-opacity="0.5" stroke-width="1.0"/>
<rect x="249.36" y="384.00" width="5.355" height="8.10" fill="#ffffff" stroke="#1e2a36" stroke-opacity="0.5" stroke-width="1.0"/>
<rect x="254.72" y="386.40" width="5.355" height="5.70" fill="#ffffff" stroke="#1e2a36" stroke-opacity="0.5" stroke-width="1.0"/>
<rect x="260.07" y="388.10" width="5.355" height="4.00" fill="#ffffff" stroke="#1e2a36" stroke-opacity="0.5" stroke-width="1.0"/>
<rect x="265.43" y="387.90" width="5.355" height="4.20" fill="#ffffff" stroke="#1e2a36" stroke-opacity="0.5" stroke-width="1.0"/>
<rect x="270.78" y="389.30" width="5.355" height="2.80" fill="#ffffff" stroke="#1e2a36" stroke-opacity="0.5" stroke-width="1.0"/>
<rect x="276.13" y="389.50" width="5.355" height="2.60" fill="#ffffff" stroke="#1e2a36" stroke-opacity="0.5" stroke-width="1.0"/>
<rect x="281.49" y="388.80" width="5.355" height="3.30" fill="#ffffff" stroke="#1e2a36" stroke-opacity="0.5" stroke-width="1.0"/>
<rect x="286.85" y="389.10" width="5.355" height="3.00" fill="#ffffff" stroke="#1e2a36" stroke-opacity="0.5" stroke-width="1.0"/>
<rect x="297.56" y="388.90" width="5.355" height="3.20" fill="#ffffff" stroke="#1e2a36" stroke-opacity="0.5" stroke-width="1.0"/>
<rect x="302.91" y="391.30" width="5.355" height="0.80" fill="#ffffff" stroke="#1e2a36" stroke-opacity="0.5" stroke-width="1.0"/>
<rect x="308.26" y="389.30" width="5.355" height="2.80" fill="#ffffff" stroke="#1e2a36" stroke-opacity="0.5" stroke-width="1.0"/>
<rect x="313.62" y="389.30" width="5.355" height="2.80" fill="#ffffff" stroke="#1e2a36" stroke-opacity="0.5" stroke-width="1.0"/>
<rect x="318.98" y="390.50" width="5.355" height="1.60" fill="#f29421" stroke="#1e2a36" stroke-opacity="0.5" stroke-width="1.0"/>
<rect x="324.33" y="390.50" width="5.355" height="1.60" fill="#f29421" stroke="#1e2a36" stroke-opacity="0.5" stroke-width="1.0"/>
<rect x="329.69" y="388.80" width="5.355" height="3.30" fill="#f29421" stroke="#1e2a36" stroke-opacity="0.5" stroke-width="1.0"/>
<rect x="335.04" y="390.50" width="5.355" height="1.60" fill="#f29421" stroke="#1e2a36" stroke-opacity="0.5" stroke-width="1.0"/>
<rect x="340.40" y="390.50" width="5.355" height="1.60" fill="#f29421" stroke="#1e2a36" stroke-opacity="0.5" stroke-width="1.0"/>
<rect x="345.75" y="390.50" width="5.355" height="1.60" fill="#f29421" stroke="#1e2a36" stroke-opacity="0.5" stroke-width="1.0"/>
<rect x="351.11" y="390.50" width="5.355" height="1.60" fill="#f29421" stroke="#1e2a36" stroke-opacity="0.5" stroke-width="1.0"/>
<rect x="356.46" y="390.50" width="5.355" height="1.60" fill="#f29421" stroke="#1e2a36" stroke-opacity="0.5" stroke-width="1.0"/>
<rect x="361.81" y="390.50" width="5.355" height="1.60" fill="#f29421" stroke="#1e2a36" stroke-opacity="0.5" stroke-width="1.0"/>
<rect x="367.17" y="390.10" width="5.355" height="2.00" fill="#f29421" stroke="#1e2a36" stroke-opacity="0.5" stroke-width="1.0"/>
<rect x="372.53" y="390.50" width="5.355" height="1.60" fill="#f29421" stroke="#1e2a36" stroke-opacity="0.5" stroke-width="1.0"/>
<rect x="388.59" y="391.50" width="5.355" height="0.60" fill="#ffffff" stroke="#1e2a36" stroke-opacity="0.5" stroke-width="1.0"/>
<rect x="393.95" y="391.50" width="5.355" height="0.60" fill="#ffffff" stroke="#1e2a36" stroke-opacity="0.5" stroke-width="1.0"/>
<rect x="399.30" y="391.50" width="5.355" height="0.60" fill="#ffffff" stroke="#1e2a36" stroke-opacity="0.5" stroke-width="1.0"/>
<rect x="410.01" y="391.50" width="5.355" height="0.60" fill="#ffffff" stroke="#1e2a36" stroke-opacity="0.5" stroke-width="1.0"/>
<rect x="426.08" y="391.50" width="5.355" height="0.60" fill="#ffffff" stroke="#1e2a36" stroke-opacity="0.5" stroke-width="1.0"/>
<rect x="431.43" y="391.50" width="5.355" height="0.60" fill="#ffffff" stroke="#1e2a36" stroke-opacity="0.5" stroke-width="1.0"/>
<rect x="275.55" y="315.3" width="5.545" height="3.4" fill="#abcbee" stroke="#1e2a36" stroke-opacity="0.5" stroke-width="1.0"/>
</g>
<line x1="78.1" y1="39" x2="78.1" y2="410.7" stroke="#000" stroke-width="2"/>
<line x1="77.1" y1="409.7" x2="457.6" y2="409.7" stroke="#000" stroke-width="2"/>
<line x1="74.5" y1="392.2" x2="78.1" y2="392.2" stroke="#000" stroke-width="1.3"/>
<line x1="74.5" y1="328.6" x2="78.1" y2="328.6" stroke="#000" stroke-width="1.3"/>
<line x1="74.5" y1="264.9" x2="78.1" y2="264.9" stroke="#000" stroke-width="1.3"/>
<line x1="74.5" y1="201.0" x2="78.1" y2="201.0" stroke="#000" stroke-width="1.3"/>
<line x1="74.5" y1="136.9" x2="78.1" y2="136.9" stroke="#000" stroke-width="1.3"/>
<line x1="74.5" y1="73.5" x2="78.1" y2="73.5" stroke="#000" stroke-width="1.3"/>
<line x1="117.7" y1="410" x2="117.7" y2="413.5" stroke="#000" stroke-width="1.3"/>
<line x1="174.3" y1="410" x2="174.3" y2="413.5" stroke="#000" stroke-width="1.3"/>
<line x1="230.9" y1="410" x2="230.9" y2="413.5" stroke="#000" stroke-width="1.3"/>
<line x1="287.3" y1="410" x2="287.3" y2="413.5" stroke="#000" stroke-width="1.3"/>
<line x1="343.8" y1="410" x2="343.8" y2="413.5" stroke="#000" stroke-width="1.3"/>
<line x1="400.5" y1="410" x2="400.5" y2="413.5" stroke="#000" stroke-width="1.3"/>
<line x1="457.1" y1="410" x2="457.1" y2="413.5" stroke="#000" stroke-width="1.3"/>
<text x="57.50" y="401.00" font-family="Liberation Sans, sans-serif" stroke="#000" stroke-width="0.3" font-size="23.5" textLength="12.00" lengthAdjust="spacingAndGlyphs">0</text>
<text x="34.50" y="336.00" font-family="Liberation Sans, sans-serif" stroke="#000" stroke-width="0.3" font-size="23.5" textLength="36.50" lengthAdjust="spacingAndGlyphs">200</text>
<text x="35.00" y="273.50" font-family="Liberation Sans, sans-serif" stroke="#000" stroke-width="0.3" font-size="23.5" textLength="36.00" lengthAdjust="spacingAndGlyphs">400</text>
<text x="35.00" y="209.00" font-family="Liberation Sans, sans-serif" stroke="#000" stroke-width="0.3" font-size="23.5" textLength="36.00" lengthAdjust="spacingAndGlyphs">600</text>
<text x="34.00" y="145.00" font-family="Liberation Sans, sans-serif" stroke="#000" stroke-width="0.3" font-size="23.5" textLength="37.00" lengthAdjust="spacingAndGlyphs">800</text>
<text x="25.00" y="78.50" font-family="Liberation Sans, sans-serif" stroke="#000" stroke-width="0.3" font-size="23.5" textLength="45.50" lengthAdjust="spacingAndGlyphs">1000</text>
<text x="101.50" y="436.50" font-family="Liberation Sans, sans-serif" stroke="#000" stroke-width="0.3" font-size="23.5" textLength="33.00" lengthAdjust="spacingAndGlyphs">100</text>
<text x="156.50" y="436.50" font-family="Liberation Sans, sans-serif" stroke="#000" stroke-width="0.3" font-size="23.5" textLength="34.00" lengthAdjust="spacingAndGlyphs">150</text>
<text x="214.50" y="436.50" font-family="Liberation Sans, sans-serif" stroke="#000" stroke-width="0.3" font-size="23.5" textLength="36.50" lengthAdjust="spacingAndGlyphs">200</text>
<text x="271.00" y="436.50" font-family="Liberation Sans, sans-serif" stroke="#000" stroke-width="0.3" font-size="23.5" textLength="36.50" lengthAdjust="spacingAndGlyphs">250</text>
<text x="327.00" y="436.50" font-family="Liberation Sans, sans-serif" stroke="#000" stroke-width="0.3" font-size="23.5" textLength="35.50" lengthAdjust="spacingAndGlyphs">300</text>
<text x="383.00" y="436.50" font-family="Liberation Sans, sans-serif" stroke="#000" stroke-width="0.3" font-size="23.5" textLength="35.50" lengthAdjust="spacingAndGlyphs">350</text>
<text x="442.00" y="437.00" font-family="Liberation Sans, sans-serif" stroke="#000" stroke-width="0.3" font-size="23.5" textLength="37.00" lengthAdjust="spacingAndGlyphs">400</text>
<text x="575.00" y="296.50" font-family="Liberation Sans, sans-serif" stroke="#000" stroke-width="0.3" font-size="21.5" textLength="91.50" lengthAdjust="spacingAndGlyphs">Clone 10</text>
<text x="558.00" y="319.50" font-family="Liberation Sans, sans-serif" stroke="#000" stroke-width="0.3" font-size="21.5" textLength="78.00" lengthAdjust="spacingAndGlyphs">Clone 9</text>
<text x="537.50" y="342.50" font-family="Liberation Sans, sans-serif" stroke="#000" stroke-width="0.3" font-size="21.5" textLength="77.50" lengthAdjust="spacingAndGlyphs">Clone 8</text>
<text x="511.50" y="367.00" font-family="Liberation Sans, sans-serif" stroke="#000" stroke-width="0.3" font-size="21.5" textLength="78.50" lengthAdjust="spacingAndGlyphs">Clone 3</text>
<text x="457.50" y="392.00" font-family="Liberation Sans, sans-serif" stroke="#000" stroke-width="0.3" font-size="21.5" textLength="227.50" lengthAdjust="spacingAndGlyphs">trastuzumab originator</text>
<text x="197.00" y="469.00" font-family="Liberation Sans, sans-serif" stroke="#000" stroke-width="0.3" font-size="23.0" textLength="111.00" lengthAdjust="spacingAndGlyphs">Mass (kDa)</text>
<text transform="translate(23.3,251.7) rotate(-90)" x="0" y="0" font-family="Liberation Sans, sans-serif" stroke="#000" stroke-width="0.3" font-size="23.5" textLength="71.9" lengthAdjust="spacingAndGlyphs">Counts</text>
</svg>
</body></html>
